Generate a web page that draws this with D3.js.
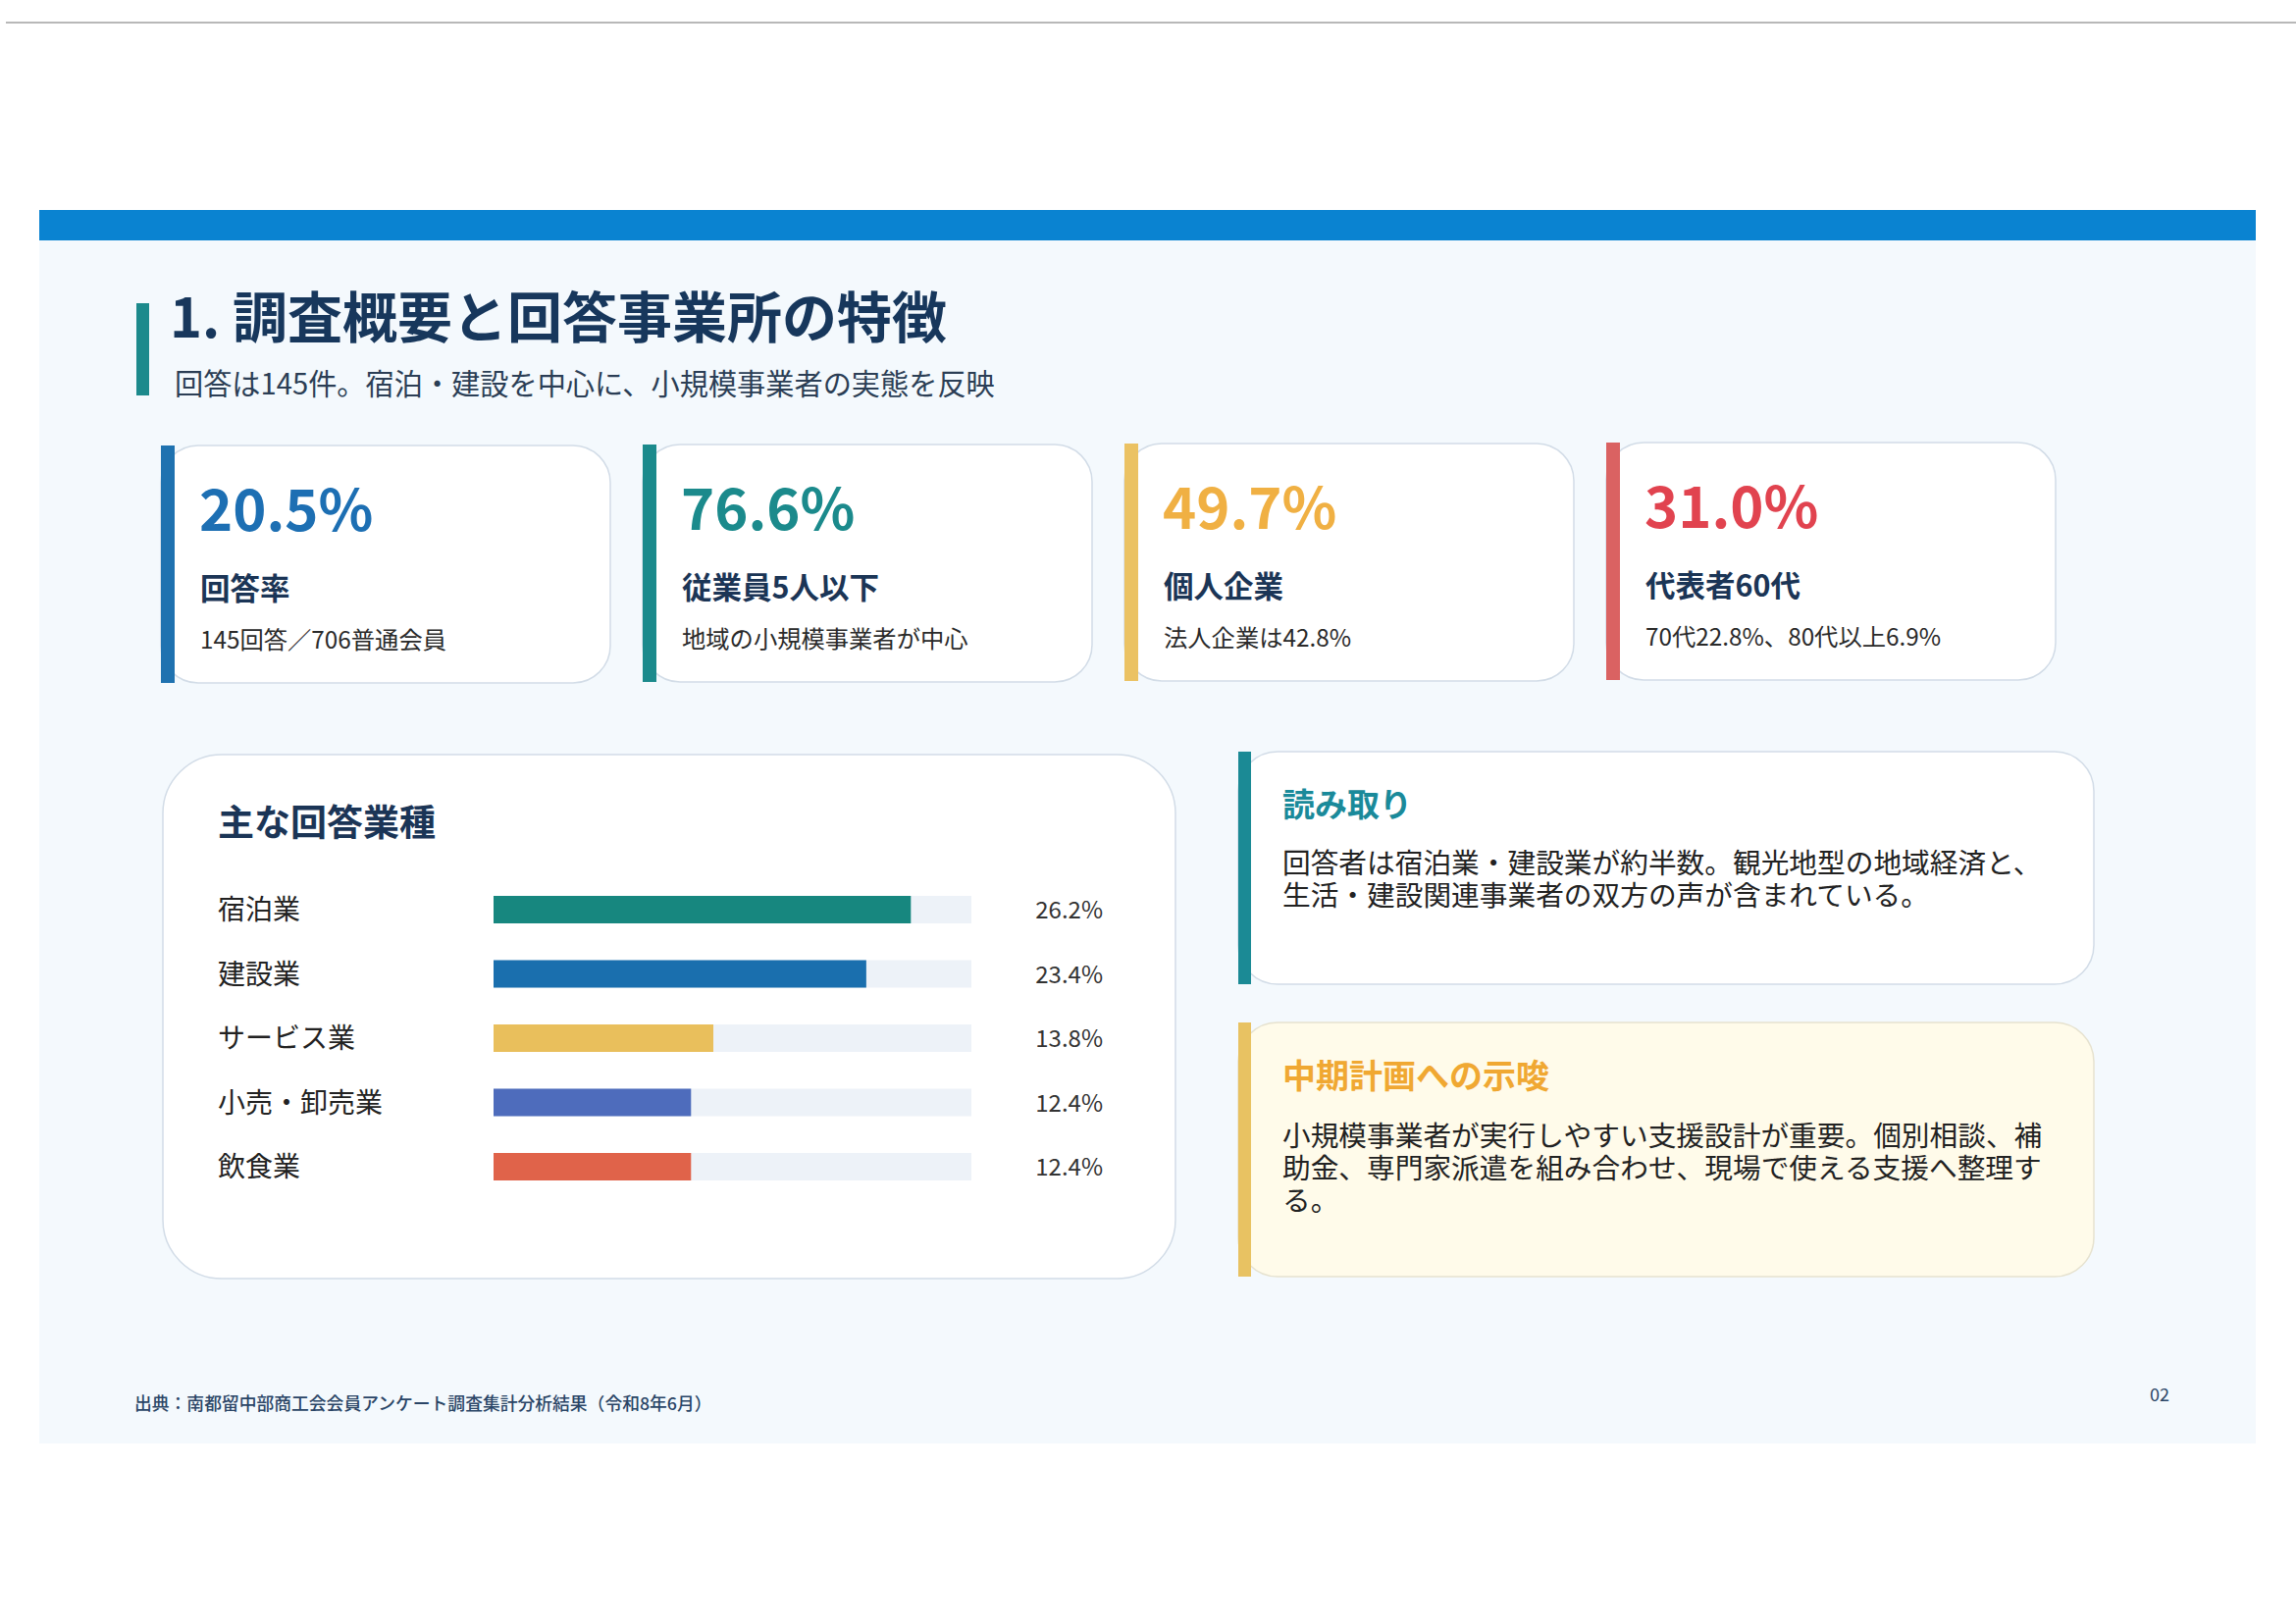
<!DOCTYPE html>
<html>
<head>
<meta charset="utf-8">
<script src="https://cdn.jsdelivr.net/npm/d3@7"></script>
<style>
  html, body { margin: 0; padding: 0; background: #ffffff; }
  svg { display: block; }
  text { font-family: "Noto Sans CJK JP", "Noto Sans", sans-serif; }
</style>
</head>
<body>
<svg id="chart" width="2340" height="1654"></svg>
<script>
// ---- Data ----
const pageTitle = "1. 調査概要と回答事業所の特徴";
const pageSubtitle = "回答は145件。宿泊・建設を中心に、小規模事業者の実態を反映";

const kpiValues = ["20.5%", "76.6%", "49.7%", "31.0%"];
const kpiLabels = ["回答率", "従業員5人以下", "個人企業", "代表者60代"];
const kpiNotes = ["145回答／706普通会員", "地域の小規模事業者が中心", "法人企業は42.8%", "70代22.8%、80代以上6.9%"];

const chartTitle = "主な回答業種";
const industries = ["宿泊業", "建設業", "サービス業", "小売・卸売業", "飲食業"];
const shares = [26.2, 23.4, 13.8, 12.4, 12.4];
const shareMax = 30;

const noteTitles = ["読み取り", "中期計画への示唆"];
const noteLines = [
  ["回答者は宿泊業・建設業が約半数。観光地型の地域経済と、", "生活・建設関連事業者の双方の声が含まれている。"],
  ["小規模事業者が実行しやすい支援設計が重要。個別相談、補", "助金、専門家派遣を組み合わせ、現場で使える支援へ整理す", "る。"]
];
const sourceText = "出典：南都留中部商工会会員アンケート調査集計分析結果（令和8年6月）";
const pageNumber = "02";

// ---- Styles ----
const kpiColors = ["#1d6fb3", "#1b8a8c", "#f0b043", "#e1434f"];
const kpiBarColors = ["#1f72b0", "#1b8a8c", "#ebc263", "#da6262"];
const barColors = ["#17877f", "#1a6fae", "#e9bf5c", "#4e6cbc", "#e0634a"];
const navy = "#1b3556";

const svg = d3.select("#chart");

// page frame
svg.append("line").attr("x1", 6).attr("x2", 2340).attr("y1", 23).attr("y2", 23)
  .attr("stroke", "#b8b8b8").attr("stroke-width", 2);
svg.append("rect").attr("x", 40).attr("y", 245).attr("width", 2259).attr("height", 1226)
  .attr("fill", "#f4f9fd");
svg.append("rect").attr("x", 40).attr("y", 214).attr("width", 2259).attr("height", 31)
  .attr("fill", "#0a83d1");

// title
svg.append("rect").attr("x", 139).attr("y", 309).attr("width", 13).attr("height", 94)
  .attr("fill", "#1c8a8c");
svg.append("text").attr("x", 173).attr("y", 344)
  .attr("font-size", 56).attr("font-weight", 700).attr("fill", "#17375c")
  .text(pageTitle);
svg.append("text").attr("x", 178).attr("y", 402)
  .attr("font-size", 29.2).attr("fill", "#2b3e55")
  .text(pageSubtitle);

// KPI cards
const kpiX = d3.scalePoint().domain(d3.range(kpiValues.length)).range([164, 164 + 491 * 3]);
const kpiW = 458, kpiH = 242, kpiY = 454;
const cards = svg.selectAll("g.kpi").data(kpiValues).join("g")
  .attr("class", "kpi")
  .attr("transform", (d, i) => `translate(${kpiX(i)},${kpiY - i})`);
cards.append("rect").attr("width", kpiW).attr("height", kpiH).attr("rx", 38)
  .attr("fill", "#ffffff").attr("stroke", "#d2dce7").attr("stroke-width", 1.5);
cards.append("rect").attr("width", 14).attr("height", kpiH)
  .attr("fill", (d, i) => kpiBarColors[i]);
cards.append("text").attr("x", 39).attr("y", 87)
  .attr("font-size", 58).attr("font-weight", 700)
  .attr("fill", (d, i) => kpiColors[i]).text(d => d);
cards.append("text").attr("x", 40).attr("y", 157)
  .attr("font-size", 30.5).attr("font-weight", 700).attr("fill", navy)
  .text((d, i) => kpiLabels[i]);
cards.append("text").attr("x", 40).attr("y", 207)
  .attr("font-size", 24.3).attr("fill", "#2a2a2a")
  .text((d, i) => kpiNotes[i]);

// Bar chart panel
svg.append("rect").attr("x", 166).attr("y", 769).attr("width", 1032).attr("height", 534).attr("rx", 60)
  .attr("fill", "#ffffff").attr("stroke", "#d2dce7").attr("stroke-width", 1.5);
svg.append("text").attr("x", 222).attr("y", 852)
  .attr("font-size", 37).attr("font-weight", 700).attr("fill", navy)
  .text(chartTitle);

const x = d3.scaleLinear().domain([0, shareMax]).range([503, 990]);
const y = d3.scalePoint().domain(industries).range([927, 1189]);
const barH = 28;

const rows = svg.selectAll("g.row").data(industries).join("g").attr("class", "row");
rows.append("text").attr("x", 222).attr("y", d => y(d) + 10)
  .attr("font-size", 28).attr("fill", "#222222").text(d => d);
rows.append("rect").attr("x", x(0)).attr("y", d => y(d) - barH / 2)
  .attr("width", x(shareMax) - x(0)).attr("height", barH).attr("fill", "#edf2f8");
rows.append("rect").attr("x", x(0)).attr("y", d => y(d) - barH / 2)
  .attr("width", (d, i) => x(shares[i]) - x(0)).attr("height", barH)
  .attr("fill", (d, i) => barColors[i]);
rows.append("text").attr("x", 1124).attr("y", d => y(d) + 9)
  .attr("text-anchor", "end").attr("font-size", 24).attr("fill", "#333333")
  .text((d, i) => shares[i].toFixed(1) + "%");

// Note panels
const notes = [
  { y: 766, h: 237, fill: "#ffffff", stroke: "#d2dce7", bar: "#1b8a95", titleColor: "#1a8a9a", titleY: 832, lineY: 890, ts: 33 },
  { y: 1042, h: 259, fill: "#fffbea", stroke: "#e6e2cf", bar: "#e8c262", titleColor: "#f0a832", titleY: 1109, lineY: 1168, ts: 34 }
];
notes.forEach((n, k) => {
  const g = svg.append("g").attr("transform", `translate(1262,${n.y})`);
  g.append("rect").attr("width", 872).attr("height", n.h).attr("rx", 40)
    .attr("fill", n.fill).attr("stroke", n.stroke).attr("stroke-width", 1.5);
  g.append("rect").attr("width", 13).attr("height", n.h).attr("fill", n.bar);
  g.append("text").attr("x", 45).attr("y", n.titleY - n.y)
    .attr("font-size", n.ts).attr("font-weight", 700).attr("fill", n.titleColor)
    .text(noteTitles[k]);
  const para = g.append("text").attr("x", 45).attr("y", n.lineY - n.y)
    .attr("font-size", 28.7).attr("fill", "#222222");
  para.selectAll("tspan").data(noteLines[k]).join("tspan")
    .attr("x", 45).attr("dy", (d, i) => i === 0 ? 0 : 33).text(d => d);
});

// footer
svg.append("text").attr("x", 137).attr("y", 1437)
  .attr("font-size", 17.8).attr("font-weight", 500).attr("fill", "#2a4566")
  .text(sourceText);
svg.append("text").attr("x", 2191).attr("y", 1428)
  .attr("font-size", 18).attr("fill", "#2a4566")
  .text(pageNumber);
</script>
</body>
</html>
